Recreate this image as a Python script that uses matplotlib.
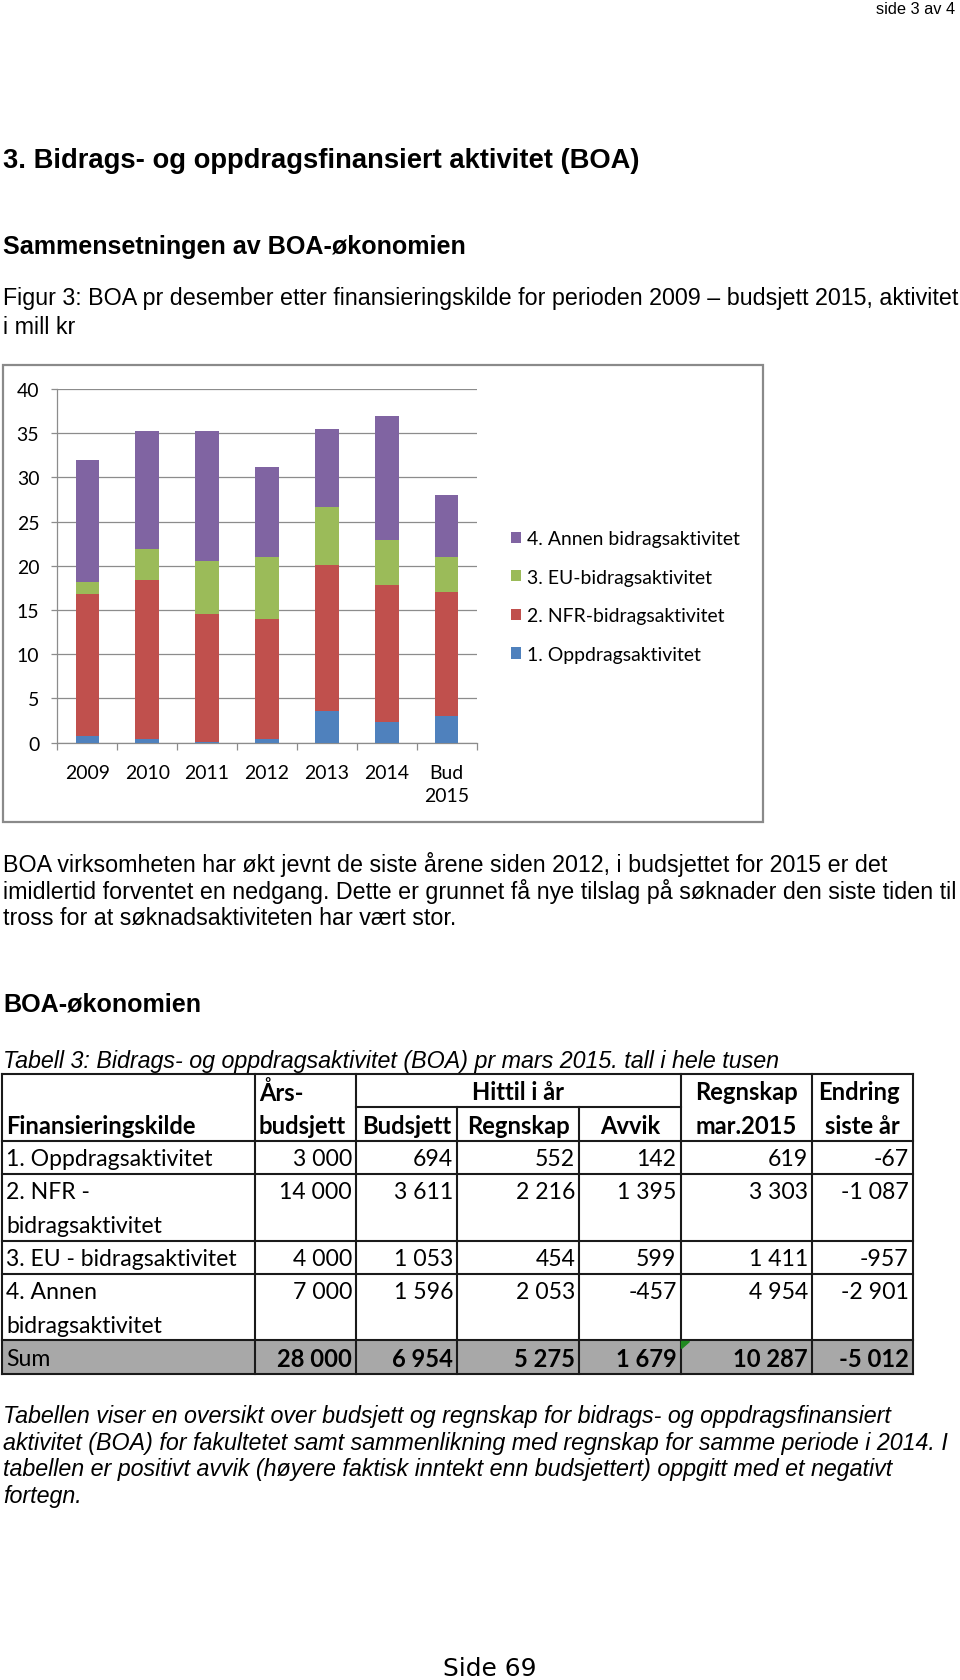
import matplotlib
matplotlib.use("Agg")
import matplotlib.pyplot as plt
from matplotlib.patches import Rectangle, Polygon
import numpy as np

# ------------------------------------------------------------------ data
years = ["2009", "2010", "2011", "2012", "2013", "2014", "Bud\n2015"]
oppdrag = [0.8, 0.4, 0.05, 0.4, 3.6, 2.3, 3.0]
nfr = [16.05, 17.95, 14.45, 13.6, 16.45, 15.55, 14.0]
eu = [1.35, 3.5, 6.1, 7.05, 6.65, 5.1, 4.0]
annen = [13.8, 13.45, 14.6, 10.15, 8.75, 14.05, 7.0]
series_labels = ["1. Oppdragsaktivitet", "2. NFR-bidragsaktivitet",
                 "3. EU-bidragsaktivitet", "4. Annen bidragsaktivitet"]
series_colors = ["#4F81BD", "#C0504D", "#9BBB59", "#8064A2"]
y_ticks = [0, 5, 10, 15, 20, 25, 30, 35, 40]

row_labels = ["1. Oppdragsaktivitet", "2. NFR -\nbidragsaktivitet",
              "3. EU - bidragsaktivitet", "4. Annen\nbidragsaktivitet", "Sum"]
aarsbudsjett = [3000, 14000, 4000, 7000, 28000]
budsjett = [694, 3611, 1053, 1596, 6954]
regnskap = [552, 2216, 454, 2053, 5275]
avvik = [142, 1395, 599, -457, 1679]
regnskap_mar = [619, 3303, 1411, 4954, 10287]
endring = [-67, -1087, -957, -2901, -5012]

# ------------------------------------------------------------------ page
W, H = 960, 1681
fig = plt.figure(figsize=(W / 100, H / 100), dpi=100)
fig.patch.set_facecolor("white")
R = fig.canvas.get_renderer()

page = fig.add_axes([0, 0, 1, 1])
page.set_xlim(0, W)
page.set_ylim(H, 0)
page.axis("off")

ARIAL = "Liberation Sans"
CAL = "Lato"


def fit(text, target, **kw):
    t = fig.text(0, 0, text, fontsize=20, **kw)
    w = t.get_window_extent(renderer=R).width
    t.remove()
    return 20.0 * target / w


def ptext(x, y, s, size, **kw):
    kw.setdefault("va", "center")
    kw.setdefault("ha", "left")
    kw.setdefault("color", "black")
    page.text(x, y, s, fontsize=size, **kw)


# header texts
fs_small = fit("side 3 av 4", 79, family=ARIAL)
ptext(955, 10, "side 3 av 4", fs_small, ha="right", family=ARIAL)

h1 = "3. Bidrags- og oppdragsfinansiert aktivitet (BOA)"
fs_h1 = fit(h1, 634, family=ARIAL, weight="bold")
ptext(3, 161, h1, fs_h1, family=ARIAL, weight="bold")

h2 = "Sammensetningen av BOA-økonomien"
fs_h2 = fit(h2, 464, family=ARIAL, weight="bold")
ptext(3, 247, h2, fs_h2, family=ARIAL, weight="bold")

cap1 = "Figur 3: BOA pr desember etter finansieringskilde for perioden 2009 – budsjett 2015, aktivitet"
fs_body = fit("BOA virksomheten har økt jevnt de siste årene siden 2012, i budsjettet for 2015 er det",
              882, family=ARIAL)
ptext(3, 298, cap1, fs_body, family=ARIAL)
ptext(3, 328, "i mill kr", fs_body, family=ARIAL)

body = ["BOA virksomheten har økt jevnt de siste årene siden 2012, i budsjettet for 2015 er det",
        "imidlertid forventet en nedgang. Dette er grunnet få nye tilslag på søknader den siste tiden til",
        "tross for at søknadsaktiviteten har vært stor."]
for i, line in enumerate(body):
    ptext(3, 865 + i * 26.7, line, fs_body, family=ARIAL)

ptext(3, 1005, "BOA-økonomien", fs_h2, family=ARIAL, weight="bold")
ptext(3, 1061.5, "Tabell 3: Bidrags- og oppdragsaktivitet (BOA) pr mars 2015. tall i hele tusen",
      fs_body, family=ARIAL, style="italic")

foot = ["Tabellen viser en oversikt over budsjett og regnskap for bidrags- og oppdragsfinansiert",
        "aktivitet (BOA) for fakultetet samt sammenlikning med regnskap for samme periode i 2014. I",
        "tabellen er positivt avvik (høyere faktisk inntekt enn budsjettert) oppgitt med et negativt",
        "fortegn."]
for i, line in enumerate(foot):
    ptext(3, 1416.5 + i * 26.7, line, fs_body, family=ARIAL, style="italic")

fs_foot = fit("Side 69", 93.5, family="DejaVu Sans")
ptext(490, 1669, "Side 69", fs_foot, ha="center", family="DejaVu Sans")

# ------------------------------------------------------------------ chart
page.add_patch(Rectangle((3, 366), 760, 457, fill=False, ec="#8a8a8a", lw=1.6))

x0, x1, yb, yt = 57.3, 476.7, 743.7, 390.0
ax = fig.add_axes([x0 / W, 1 - yb / H, (x1 - x0) / W, (yb - yt) / H])
ax.set_facecolor("none")
xs = np.arange(len(years))
bottom = np.zeros(len(years))
handles = []
for vals, col, lab in zip([oppdrag, nfr, eu, annen], series_colors, series_labels):
    b = ax.bar(xs, vals, width=0.39, bottom=bottom, color=col, label=lab, zorder=3)
    handles.append(b)
    bottom += np.array(vals)

ax.set_xlim(-0.5, len(years) - 0.5)
ax.set_ylim(0, 40)
ax.set_yticks(y_ticks)
ax.yaxis.grid(True, color="#8c8c8c", lw=0.9, zorder=0)
ax.set_axisbelow(True)
for s in ["top", "right"]:
    ax.spines[s].set_visible(False)
for s in ["left", "bottom"]:
    ax.spines[s].set_color("#8c8c8c")
    ax.spines[s].set_linewidth(0.9)

fs_chart = fit("4. Annen bidragsaktivitet", 213, family=CAL)
ax.tick_params(axis="y", length=4.5, width=0.9, color="#8c8c8c", pad=8.5,
               labelsize=fs_chart, labelcolor="black")
for t in ax.get_yticklabels():
    t.set_family(CAL)
ax.set_xticks(xs)
ax.set_xticklabels(years, family=CAL, fontsize=fs_chart, linespacing=1.42)
ax.tick_params(axis="x", which="major", length=0, pad=15.5)
ax.set_xticks(np.arange(-0.5, len(years)), minor=True)
ax.tick_params(axis="x", which="minor", length=5, width=0.9, color="#8c8c8c")

leg = fig.legend(handles[::-1], series_labels[::-1], loc="upper left",
                 bbox_to_anchor=(511 / W, 1 - 531 / H), frameon=False,
                 borderaxespad=0, borderpad=0, handlelength=0.52, handleheight=0.52,
                 handletextpad=0.32, labelspacing=1.12,
                 prop={"family": CAL, "size": fs_chart})

# ------------------------------------------------------------------ table
col_edges = [2, 255, 356, 457.3, 579.3, 680.5, 812, 912.5]
y_top, y_mid, y_head = 1075, 1108.3, 1141.7
slot = 33.3
off = 18.0
LW = 1.5

def fmt(v):
    return f"{v:,}".replace(",", " ")

fs_tab = fit("1. Oppdragsaktivitet", 206.7, family=CAL)
fs_tabb = fit("Finansieringskilde", 190, family=CAL, weight="bold")

# row geometry
row_tops = []
yy = y_head
for lab in row_labels:
    row_tops.append(yy)
    yy += slot * (lab.count("\n") + 1)
y_bot = yy

# sum row fill
page.add_patch(Rectangle((col_edges[0], row_tops[-1]), col_edges[-1] - col_edges[0],
                         y_bot - row_tops[-1], color="#a8a8a8", lw=0, zorder=1))
page.add_patch(Polygon([(col_edges[5] + 1, row_tops[-1] + 1), (col_edges[5] + 9, row_tops[-1] + 1),
                        (col_edges[5] + 1, row_tops[-1] + 8)], closed=True, color="#1f8a1f", zorder=3))

# horizontal lines
for yv in [y_top, y_head] + row_tops[1:] + [y_bot]:
    page.plot([col_edges[0], col_edges[-1]], [yv, yv], color="#1a1a1a", lw=LW, zorder=2,
              solid_capstyle="projecting")
page.plot([col_edges[2], col_edges[5]], [y_mid, y_mid], color="#1a1a1a", lw=LW, zorder=2)
# vertical lines
for i, xv in enumerate(col_edges):
    ystart = y_mid if i in (3, 4) else y_top
    page.plot([xv, xv], [ystart, y_bot], color="#1a1a1a", lw=LW, zorder=2,
              solid_capstyle="projecting")

def ctr(a, b):
    return (a + b) / 2

l1, l2 = y_top + off, y_mid + off
tk = dict(family=CAL, weight="bold", fontsize=fs_tabb, va="center", color="black", zorder=4)
page.text(6.5, l2, "Finansieringskilde", ha="left", **tk)
page.text(259, l1, "Års-", ha="left", **tk)
page.text(259, l2, "budsjett", ha="left", **tk)
page.text(ctr(col_edges[2], col_edges[5]), l1, "Hittil i år", ha="center", **tk)
page.text(ctr(col_edges[2], col_edges[3]), l2, "Budsjett", ha="center", **tk)
page.text(ctr(col_edges[3], col_edges[4]), l2, "Regnskap", ha="center", **tk)
page.text(ctr(col_edges[4], col_edges[5]), l2, "Avvik", ha="center", **tk)
page.text(ctr(col_edges[5], col_edges[6]), l1, "Regnskap", ha="center", **tk)
page.text(ctr(col_edges[5], col_edges[6]), l2, "mar.2015", ha="center", **tk)
page.text(col_edges[7] - 13, l1, "Endring", ha="right", **tk)
page.text(col_edges[7] - 13, l2, "siste år", ha="right", **tk)

cols = [aarsbudsjett, budsjett, regnskap, avvik, regnskap_mar, endring]
for r, lab in enumerate(row_labels):
    top = row_tops[r]
    is_sum = r == len(row_labels) - 1
    for k, part in enumerate(lab.split("\n")):
        page.text(6.5, top + off + k * slot, part, family=CAL, fontsize=fs_tab,
                  va="center", ha="left", color="black", zorder=4)
    for c, vals in enumerate(cols):
        page.text(col_edges[c + 2] - 4, top + off, fmt(vals[r]), family=CAL,
                  fontsize=fs_tabb if is_sum else fs_tab,
                  weight="bold" if is_sum else "normal",
                  va="center", ha="right", color="black", zorder=4)

fig.savefig("out.png", dpi=100, facecolor="white")
